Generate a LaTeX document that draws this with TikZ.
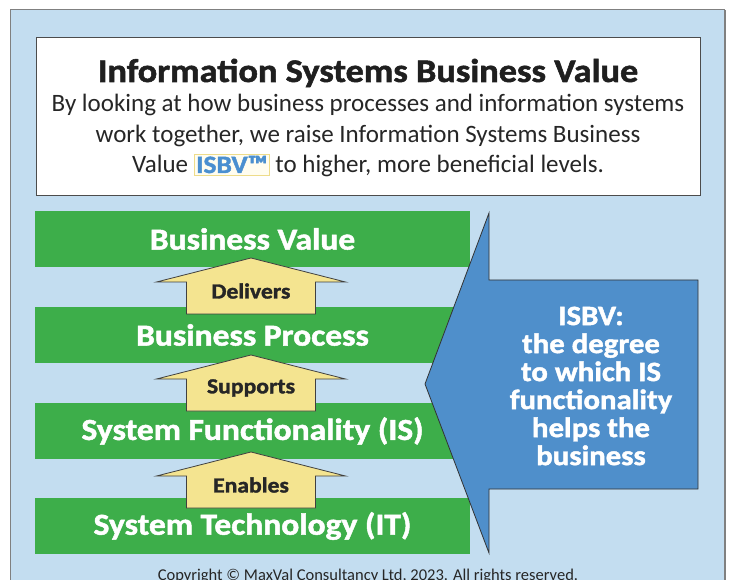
\documentclass[tikz,border=0pt]{standalone}
\usepackage{fontspec}
\setmainfont{Carlito}[BoldFeatures={FakeBold=1.6,FakeStretch=1.1}]
\definecolor{panelblue}{HTML}{C3DDF0}
\definecolor{bargreen}{HTML}{3DAE4A}
\definecolor{arrowyellow}{HTML}{F4E490}
\definecolor{arrowblue}{HTML}{4F8FCB}
\definecolor{isbvblue}{HTML}{4A8FD0}
\definecolor{isbvframe}{HTML}{EEDC8A}
\definecolor{isbvfill}{HTML}{FFFDF0}
\tikzset{
  bar/.style={fill=bargreen,minimum width=435pt,minimum height=56pt,inner sep=0pt,text=white,font=\bfseries\fontsize{30.5}{30.5}\selectfont},
  uparrow/.style={fill=arrowyellow,draw=black!75,line width=0.8pt},
  arrowlabel/.style={font=\bfseries\fontsize{21.5}{21.5}\selectfont,text=black!85},
  bodyline/.style={anchor=base,font=\fontsize{25}{25}\selectfont,text=black!85}
}
\newcommand{\isbvmark}{{\setlength{\fboxsep}{1.5pt}\setlength{\fboxrule}{0.8pt}\fcolorbox{isbvframe}{isbvfill}{\textcolor{isbvblue}{\bfseries ISBV\texttrademark}}}}
\begin{document}
\begin{tikzpicture}[x=1pt,y=-1pt]
        \useasboundingbox (0,0) rectangle (737,580);
        \clip (0,0) rectangle (737,580);
        \fill[panelblue] (10,10) rectangle (725,600);
        \draw[black!50,line width=1pt] (10,600)--(10,10)--(725,10);
        \draw[black!50,line width=2pt] (725,10)--(725,600);
        \draw[fill=white,draw=black!70,line width=0.8pt] (36,37) rectangle (700,195);
        \node[anchor=base,font=\bfseries\fontsize{33}{33}\selectfont,text=black!88] (title) at (368,82) {Information Systems Business Value};
        \node[bodyline] (line1) at (368,112) {By looking at how business processes and information systems};
        \node[bodyline] (line2) at (368,143) {work together, we raise Information Systems Business};
        \node[bodyline] (line3) at (368,173) {Value \isbvmark{} to higher, more beneficial levels.};
        \node[bar] (value) at (252.5,239) {Business Value};
        \node[bar] (process) at (252.5,335) {Business Process};
        \node[bar] (function) at (252.5,431) {System Functionality (IS)};
        \node[bar] (tech) at (252.5,526) {System Technology (IT)};
        \foreach \t/\word/\name in {258/Delivers/delivers,355/Supports/supports,452/Enables/enables}{
          \draw[uparrow] (251,\t)--(345.5,\t+24)--(315.5,\t+24)--(315.5,\t+56)--(186.5,\t+56)--(186.5,\t+24)--(156.5,\t+24)--cycle;
          \node[arrowlabel] (\name) at (251,\t+33) {\word};
        }
        \draw[fill=arrowblue,draw=black!80,line width=0.8pt] (425,384)--(489,213)--(489,280)--(698,280)--(698,489)--(489,489)--(489,553)--cycle;
        \node[align=center,text=white,font=\bfseries\fontsize{28}{28}\selectfont] (isbv) at (591,386) {ISBV:\\the degree\\to which IS\\functionality\\helps the\\business};
        \node[anchor=base,font=\fontsize{16.5}{16.5}\selectfont,text=black!85] (copyright) at (368,580) {Copyright © MaxVal Consultancy Ltd, 2023. All rights reserved.};
\end{tikzpicture}
\end{document}
